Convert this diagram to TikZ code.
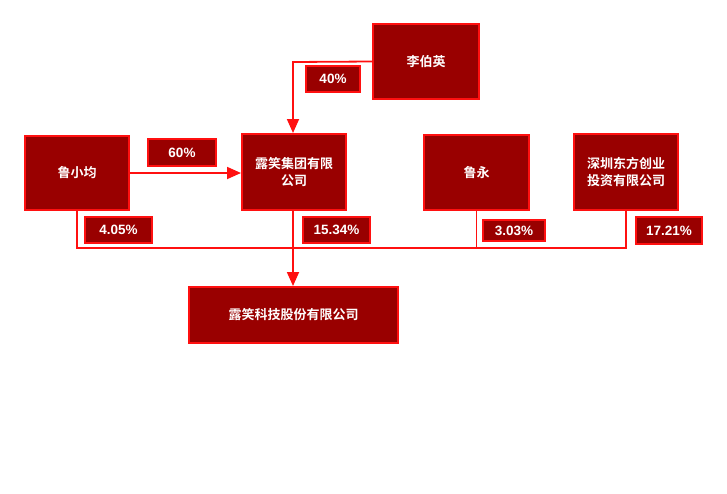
\documentclass[tikz,border=0pt]{standalone}
\usepackage{fontspec}
\setmainfont{Liberation Sans}
\newfontfamily\cjk{Noto Sans CJK SC}[BoldFont={* Bold}]
\usetikzlibrary{arrows.meta,positioning}
\definecolor{boxfill}{HTML}{990000}
\definecolor{boxline}{HTML}{FF1010}
\tikzset{
  ent/.style={draw=boxline, line width=2pt, fill=boxfill, text=white, font=\cjk\bfseries\fontsize{13}{16.5}\selectfont, align=center, inner sep=0pt},
  pct/.style={draw=boxline, line width=2pt, fill=boxfill, text=white, font=\bfseries\fontsize{13.5}{15}\selectfont, inner sep=0pt},
  conn/.style={draw=boxline, line width=1.8pt},
  arr/.style={conn, -{Triangle[length=14pt,width=12pt]}}
}
\begin{document}
\begin{tikzpicture}[x=1pt,y=-1pt]
\useasboundingbox (0,0) rectangle (727,493);
% entity boxes
\node[ent, minimum width=104pt, minimum height=74pt] (lxj) at (77,173) {鲁小均};
\node[ent, minimum width=104pt, minimum height=76pt] (lxg) at (294,172) {露笑集团有限\\公司};
\node[ent, minimum width=106pt, minimum height=75pt] (lby) at (426,61.5) {李伯英};
\node[ent, minimum width=105pt, minimum height=75pt] (ly) at (476.5,172.5) {鲁永};
\node[ent, minimum width=104pt, minimum height=76pt] (sz) at (626,172) {深圳东方创业\\投资有限公司};
\node[ent, minimum width=209pt, minimum height=56pt] (lxk) at (293.5,315) {露笑科技股份有限公司};
% percent labels
\node[pct, minimum width=54pt, minimum height=26pt] (p40) at (333,79) {40\%};
\node[pct, minimum width=68pt, minimum height=27pt] (p60) at (182,152.5) {60\%};
\node[pct, minimum width=67pt, minimum height=26pt] (p405) at (118.5,230) {4.05\%};
\node[pct, minimum width=67pt, minimum height=26pt] (p1534) at (336.5,230) {15.34\%};
\node[pct, minimum width=62pt, minimum height=21pt] (p303) at (514,230.5) {3.03\%};
\node[pct, minimum width=66pt, minimum height=27pt] (p1721) at (669,230.5) {17.21\%};
% junction coordinates
\coordinate (jl) at (77,248);
\coordinate (jm) at (293,248);
\coordinate (jr) at (626,248);
\coordinate (jt) at (293,62);
% connectors
\draw[arr] (lby.west) -- (jt) -- (lxg.north -| jt);
\draw[arr] (lxj.east) -- (lxj.east -| lxg.west);
\draw[conn] (lxj.south) -- (jl) -- (jr) -- (sz.south);
\draw[conn] (ly.south) -- (ly.south |- jl);
\draw[arr] (lxg.south -| jm) -- (lxk.north -| jm);
\end{tikzpicture}
\end{document}
